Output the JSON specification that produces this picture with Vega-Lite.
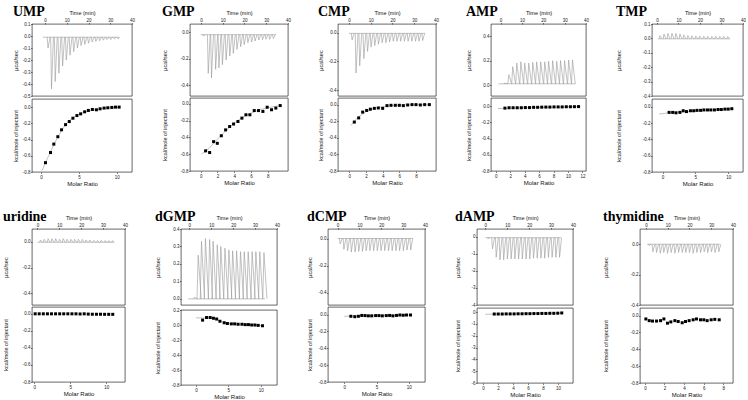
{
"$schema": "https://vega.github.io/schema/vega-lite/v6.json",
"background": "white",
"padding": {"left": 2, "top": 4, "right": 0, "bottom": 0},
"spacing": 22,
"vconcat": [
{"hconcat": [
 {"spacing": 0, "vconcat": [
  {"width": 100, "height": 72, "title": {"text": "UMP"},
   "data": {"name": "raw"},
   "transform": [{"filter": "datum.p==='UMP'"}, {"lookup": "p", "from": {"data": {"name": "base"}, "key": "p", "fields": ["b"]}}],
   "encoding": {
    "x": {"field": "t", "type": "quantitative", "scale": {"domain": [-6, 40], "nice": false, "zero": false}, "axis": {"orient": "top", "title": "Time (min)", "values": [0, 10, 20, 30, 40], "format": "d"}},
    "y": {"field": "b", "type": "quantitative", "scale": {"domain": [-0.5, 0.1], "nice": false, "zero": false}, "axis": {"title": "µcal/sec", "values": [0.1, 0, -0.1, -0.2, -0.3, -0.4, -0.5], "format": ".1f", "minExtent": 12.5, "maxExtent": 12.5}}
   },
   "layer": [
    {"data": {"name": "base"}, "transform": [{"filter": "datum.p==='UMP'"}], "mark": {"type": "rule", "color": "#999", "strokeWidth": 0.6}, "encoding": {"x2": {"field": "t1"}}},
    {"mark": {"type": "rule", "color": "#999", "strokeWidth": 0.6, "x2Offset": 0.8}, "encoding": {"x2": {"field": "t"}, "y2": {"field": "h"}}},
    {"mark": {"type": "rule", "color": "#999", "strokeWidth": 0.6, "xOffset": 2.8, "x2Offset": 0.8}, "encoding": {"x2": {"field": "t"}, "y2": {"field": "h"}}}
   ]},
  {"width": 100, "height": 73,
   "encoding": {
    "x": {"field": "x", "type": "quantitative", "scale": {"domain": [-1.2, 12], "nice": false, "zero": false}, "axis": {"title": "Molar Ratio", "titleFontSize": 6, "values": [0, 5, 10], "format": "d"}},
    "y": {"field": "y", "type": "quantitative", "scale": {"domain": [-0.8, 0.1], "nice": false, "zero": false}, "axis": {"title": "kcal/mole of injectant", "values": [0, -0.2, -0.4, -0.6, -0.8], "format": ".1f", "minExtent": 12.5, "maxExtent": 12.5}}
   },
   "layer": [
    {"data": {"name": "fit"}, "transform": [{"filter": "datum.p==='UMP'"}], "mark": {"type": "line", "color": "#999", "strokeWidth": 0.6}},
    {"data": {"name": "pts"}, "transform": [{"filter": "datum.p==='UMP'"}], "mark": {"type": "square", "color": "#000", "size": 9, "opacity": 1}}
   ]}
 ]},
 {"spacing": 0, "vconcat": [
  {"width": 98, "height": 72, "title": {"text": "GMP"},
   "data": {"name": "raw"},
   "transform": [{"filter": "datum.p==='GMP'"}, {"lookup": "p", "from": {"data": {"name": "base"}, "key": "p", "fields": ["b"]}}],
   "encoding": {
    "x": {"field": "t", "type": "quantitative", "scale": {"domain": [-5, 40], "nice": false, "zero": false}, "axis": {"orient": "top", "title": "Time (min)", "values": [0, 10, 20, 30, 40], "format": "d"}},
    "y": {"field": "b", "type": "quantitative", "scale": {"domain": [-0.48, 0.06], "nice": false, "zero": false}, "axis": {"title": "µcal/sec", "values": [0, -0.2, -0.4], "format": ".1f", "minExtent": 21.5, "maxExtent": 21.5}}
   },
   "layer": [
    {"data": {"name": "base"}, "transform": [{"filter": "datum.p==='GMP'"}], "mark": {"type": "rule", "color": "#999", "strokeWidth": 0.6}, "encoding": {"x2": {"field": "t1"}}},
    {"mark": {"type": "rule", "color": "#999", "strokeWidth": 0.6, "x2Offset": 0.8}, "encoding": {"x2": {"field": "t"}, "y2": {"field": "h"}}},
    {"mark": {"type": "rule", "color": "#999", "strokeWidth": 0.6, "xOffset": 2.8, "x2Offset": 0.8}, "encoding": {"x2": {"field": "t"}, "y2": {"field": "h"}}}
   ]},
  {"width": 98, "height": 73,
   "encoding": {
    "x": {"field": "x", "type": "quantitative", "scale": {"domain": [-1.27, 10.4], "nice": false, "zero": false}, "axis": {"title": "Molar Ratio", "titleFontSize": 6, "values": [0, 2, 4, 6, 8], "format": "d"}},
    "y": {"field": "y", "type": "quantitative", "scale": {"domain": [-0.8, 0.07], "nice": false, "zero": false}, "axis": {"title": "kcal/mole of injectant", "values": [0, -0.2, -0.4, -0.6, -0.8], "format": ".1f", "minExtent": 21.5, "maxExtent": 21.5}}
   },
   "layer": [
    {"data": {"name": "fit"}, "transform": [{"filter": "datum.p==='GMP'"}], "mark": {"type": "line", "color": "#999", "strokeWidth": 0.6}},
    {"data": {"name": "pts"}, "transform": [{"filter": "datum.p==='GMP'"}], "mark": {"type": "square", "color": "#000", "size": 9, "opacity": 1}}
   ]}
 ]},
 {"spacing": 0, "vconcat": [
  {"width": 98, "height": 72, "title": {"text": "CMP"},
   "data": {"name": "raw"},
   "transform": [{"filter": "datum.p==='CMP'"}, {"lookup": "p", "from": {"data": {"name": "base"}, "key": "p", "fields": ["b"]}}],
   "encoding": {
    "x": {"field": "t", "type": "quantitative", "scale": {"domain": [-5, 40], "nice": false, "zero": false}, "axis": {"orient": "top", "title": "Time (min)", "values": [0, 10, 20, 30, 40], "format": "d"}},
    "y": {"field": "b", "type": "quantitative", "scale": {"domain": [-0.44, 0.06], "nice": false, "zero": false}, "axis": {"title": "µcal/sec", "values": [0, -0.2, -0.4], "format": ".1f", "minExtent": 13.5, "maxExtent": 13.5}}
   },
   "layer": [
    {"data": {"name": "base"}, "transform": [{"filter": "datum.p==='CMP'"}], "mark": {"type": "rule", "color": "#999", "strokeWidth": 0.6}, "encoding": {"x2": {"field": "t1"}}},
    {"mark": {"type": "rule", "color": "#999", "strokeWidth": 0.6, "x2Offset": 0.8}, "encoding": {"x2": {"field": "t"}, "y2": {"field": "h"}}},
    {"mark": {"type": "rule", "color": "#999", "strokeWidth": 0.6, "xOffset": 2.8, "x2Offset": 0.8}, "encoding": {"x2": {"field": "t"}, "y2": {"field": "h"}}}
   ]},
  {"width": 98, "height": 73,
   "encoding": {
    "x": {"field": "x", "type": "quantitative", "scale": {"domain": [-1.36, 10.4], "nice": false, "zero": false}, "axis": {"title": "Molar Ratio", "titleFontSize": 6, "values": [0, 2, 4, 6, 8], "format": "d"}},
    "y": {"field": "y", "type": "quantitative", "scale": {"domain": [-0.8, 0.08], "nice": false, "zero": false}, "axis": {"title": "kcal/mole of injectant", "values": [0, -0.2, -0.4, -0.6, -0.8], "format": ".1f", "minExtent": 13.5, "maxExtent": 13.5}}
   },
   "layer": [
    {"data": {"name": "fit"}, "transform": [{"filter": "datum.p==='CMP'"}], "mark": {"type": "line", "color": "#999", "strokeWidth": 0.6}},
    {"data": {"name": "pts"}, "transform": [{"filter": "datum.p==='CMP'"}], "mark": {"type": "square", "color": "#000", "size": 9, "opacity": 1}}
   ]}
 ]},
 {"spacing": 0, "vconcat": [
  {"width": 95, "height": 72, "title": {"text": "AMP"},
   "data": {"name": "raw"},
   "transform": [{"filter": "datum.p==='AMP'"}, {"lookup": "p", "from": {"data": {"name": "base"}, "key": "p", "fields": ["b"]}}],
   "encoding": {
    "x": {"field": "t", "type": "quantitative", "scale": {"domain": [-4.5, 40], "nice": false, "zero": false}, "axis": {"orient": "top", "title": "Time (min)", "values": [0, 10, 20, 30, 40], "format": "d"}},
    "y": {"field": "b", "type": "quantitative", "scale": {"domain": [-0.09, 0.5], "nice": false, "zero": false}, "axis": {"title": "µcal/sec", "values": [0, 0.2, 0.4], "format": ".1f", "minExtent": 18.5, "maxExtent": 18.5}}
   },
   "layer": [
    {"data": {"name": "base"}, "transform": [{"filter": "datum.p==='AMP'"}], "mark": {"type": "rule", "color": "#999", "strokeWidth": 0.6}, "encoding": {"x2": {"field": "t1"}}},
    {"mark": {"type": "rule", "color": "#999", "strokeWidth": 0.6, "x2Offset": 1}, "encoding": {"x2": {"field": "t"}, "y2": {"field": "h"}}},
    {"mark": {"type": "rule", "color": "#999", "strokeWidth": 0.6, "xOffset": 3.8, "x2Offset": 1}, "encoding": {"x2": {"field": "t"}, "y2": {"field": "h"}}}
   ]},
  {"width": 95, "height": 73,
   "encoding": {
    "x": {"field": "x", "type": "quantitative", "scale": {"domain": [-0.66, 12.5], "nice": false, "zero": false}, "axis": {"title": "Molar Ratio", "titleFontSize": 6, "values": [0, 2, 4, 6, 8, 10, 12], "format": "d"}},
    "y": {"field": "y", "type": "quantitative", "scale": {"domain": [-0.8, 0.1], "nice": false, "zero": false}, "axis": {"title": "kcal/mole of injectant", "values": [0, -0.2, -0.4, -0.6, -0.8], "format": ".1f", "minExtent": 18.5, "maxExtent": 18.5}}
   },
   "layer": [
    {"data": {"name": "fit"}, "transform": [{"filter": "datum.p==='AMP'"}], "mark": {"type": "line", "color": "#999", "strokeWidth": 0.6}},
    {"data": {"name": "pts"}, "transform": [{"filter": "datum.p==='AMP'"}], "mark": {"type": "square", "color": "#000", "size": 9, "opacity": 1}}
   ]}
 ]},
 {"spacing": 0, "vconcat": [
  {"width": 91, "height": 72, "title": {"text": "TMP"},
   "data": {"name": "raw"},
   "transform": [{"filter": "datum.p==='TMP'"}, {"lookup": "p", "from": {"data": {"name": "base"}, "key": "p", "fields": ["b"]}}],
   "encoding": {
    "x": {"field": "t", "type": "quantitative", "scale": {"domain": [-2.3, 40], "nice": false, "zero": false}, "axis": {"orient": "top", "title": "Time (min)", "values": [0, 10, 20, 30, 40], "format": "d"}},
    "y": {"field": "b", "type": "quantitative", "scale": {"domain": [-0.4, 0.1], "nice": false, "zero": false}, "axis": {"title": "µcal/sec", "values": [0.1, 0, -0.1, -0.2, -0.3, -0.4], "format": ".1f", "minExtent": 29.5, "maxExtent": 29.5}}
   },
   "layer": [
    {"data": {"name": "base"}, "transform": [{"filter": "datum.p==='TMP'"}], "mark": {"type": "rule", "color": "#999", "strokeWidth": 0.6}, "encoding": {"x2": {"field": "t1"}}},
    {"mark": {"type": "rule", "color": "#999", "strokeWidth": 0.6, "x2Offset": 0.8}, "encoding": {"x2": {"field": "t"}, "y2": {"field": "h"}}},
    {"mark": {"type": "rule", "color": "#999", "strokeWidth": 0.6, "xOffset": 2.8, "x2Offset": 0.8}, "encoding": {"x2": {"field": "t"}, "y2": {"field": "h"}}}
   ]},
  {"width": 91, "height": 73,
   "encoding": {
    "x": {"field": "x", "type": "quantitative", "scale": {"domain": [-1.6, 12.25], "nice": false, "zero": false}, "axis": {"title": "Molar Ratio", "titleFontSize": 6, "values": [0, 5, 10], "format": "d"}},
    "y": {"field": "y", "type": "quantitative", "scale": {"domain": [-0.8, 0.094], "nice": false, "zero": false}, "axis": {"title": "kcal/mole of injectant", "values": [0, -0.2, -0.4, -0.6, -0.8], "format": ".1f", "minExtent": 29.5, "maxExtent": 29.5}}
   },
   "layer": [
    {"data": {"name": "fit"}, "transform": [{"filter": "datum.p==='TMP'"}], "mark": {"type": "line", "color": "#999", "strokeWidth": 0.6}},
    {"data": {"name": "pts"}, "transform": [{"filter": "datum.p==='TMP'"}], "mark": {"type": "square", "color": "#000", "size": 9, "opacity": 1}}
   ]}
 ]}
]},
{"hconcat": [
 {"spacing": 0, "vconcat": [
  {"width": 93, "height": 76, "title": {"text": "uridine"},
   "data": {"name": "raw"},
   "transform": [{"filter": "datum.p==='uridine'"}, {"lookup": "p", "from": {"data": {"name": "base"}, "key": "p", "fields": ["b"]}}],
   "encoding": {
    "x": {"field": "t", "type": "quantitative", "scale": {"domain": [-2.5, 40], "nice": false, "zero": false}, "axis": {"orient": "top", "title": "Time (min)", "values": [0, 10, 20, 30, 40], "format": "d"}},
    "y": {"field": "b", "type": "quantitative", "scale": {"domain": [-0.49, 0.1], "nice": false, "zero": false}, "axis": {"title": "µcal/sec", "values": [0, -0.2, -0.4], "format": ".1f", "minExtent": 22.5, "maxExtent": 22.5}}
   },
   "layer": [
    {"data": {"name": "base"}, "transform": [{"filter": "datum.p==='uridine'"}], "mark": {"type": "rule", "color": "#999", "strokeWidth": 0.6}, "encoding": {"x2": {"field": "t1"}}},
    {"mark": {"type": "rule", "color": "#999", "strokeWidth": 0.6, "x2Offset": 0.8}, "encoding": {"x2": {"field": "t"}, "y2": {"field": "h"}}},
    {"mark": {"type": "rule", "color": "#999", "strokeWidth": 0.6, "xOffset": 2.8, "x2Offset": 0.8}, "encoding": {"x2": {"field": "t"}, "y2": {"field": "h"}}}
   ]},
  {"width": 93, "height": 75,
   "encoding": {
    "x": {"field": "x", "type": "quantitative", "scale": {"domain": [-0.3, 12.6], "nice": false, "zero": false}, "axis": {"title": "Molar Ratio", "titleFontSize": 6, "values": [0, 5, 10], "format": "d"}},
    "y": {"field": "y", "type": "quantitative", "scale": {"domain": [-0.8, 0.08], "nice": false, "zero": false}, "axis": {"title": "kcal/mole of injectant", "values": [0, -0.2, -0.4, -0.6, -0.8], "format": ".1f", "minExtent": 22.5, "maxExtent": 22.5}}
   },
   "layer": [
    {"data": {"name": "pts"}, "transform": [{"filter": "datum.p==='uridine'"}], "mark": {"type": "square", "color": "#000", "size": 9, "opacity": 1}}
   ]}
 ]},
 {"spacing": 0, "vconcat": [
  {"width": 96, "height": 76, "title": {"text": "dGMP"},
   "data": {"name": "raw"},
   "transform": [{"filter": "datum.p==='dGMP'"}, {"lookup": "p", "from": {"data": {"name": "base"}, "key": "p", "fields": ["b"]}}],
   "encoding": {
    "x": {"field": "t", "type": "quantitative", "scale": {"domain": [-3.8, 40], "nice": false, "zero": false}, "axis": {"orient": "top", "title": "Time (min)", "values": [0, 10, 20, 30, 40], "format": "d"}},
    "y": {"field": "b", "type": "quantitative", "scale": {"domain": [-0.035, 0.4], "nice": false, "zero": false}, "axis": {"title": "µcal/sec", "values": [0, 0.1, 0.2, 0.3, 0.4], "format": ".1f", "minExtent": 19.5, "maxExtent": 19.5}}
   },
   "layer": [
    {"data": {"name": "base"}, "transform": [{"filter": "datum.p==='dGMP'"}], "mark": {"type": "rule", "color": "#999", "strokeWidth": 0.6}, "encoding": {"x2": {"field": "t1"}}},
    {"mark": {"type": "rule", "color": "#999", "strokeWidth": 0.6, "x2Offset": 1.2}, "encoding": {"x2": {"field": "t"}, "y2": {"field": "h"}}},
    {"mark": {"type": "rule", "color": "#999", "strokeWidth": 0.6, "xOffset": 4.2, "x2Offset": 1.2}, "encoding": {"x2": {"field": "t"}, "y2": {"field": "h"}}}
   ]},
  {"width": 96, "height": 75,
   "encoding": {
    "x": {"field": "x", "type": "quantitative", "scale": {"domain": [-2.3, 12.5], "nice": false, "zero": false}, "axis": {"title": "Molar Ratio", "titleFontSize": 6, "values": [0, 5, 10], "format": "d"}},
    "y": {"field": "y", "type": "quantitative", "scale": {"domain": [-0.8, 0.2], "nice": false, "zero": false}, "axis": {"title": "kcal/mole of injectant", "values": [0.2, 0, -0.2, -0.4, -0.6, -0.8], "format": ".1f", "minExtent": 19.5, "maxExtent": 19.5}}
   },
   "layer": [
    {"data": {"name": "fit"}, "transform": [{"filter": "datum.p==='dGMP'"}], "mark": {"type": "line", "color": "#999", "strokeWidth": 0.6}},
    {"data": {"name": "pts"}, "transform": [{"filter": "datum.p==='dGMP'"}], "mark": {"type": "square", "color": "#000", "size": 9, "opacity": 1}}
   ]}
 ]},
 {"spacing": 0, "vconcat": [
  {"width": 97, "height": 76, "title": {"text": "dCMP"},
   "data": {"name": "raw"},
   "transform": [{"filter": "datum.p==='dCMP'"}, {"lookup": "p", "from": {"data": {"name": "base"}, "key": "p", "fields": ["b"]}}],
   "encoding": {
    "x": {"field": "t", "type": "quantitative", "scale": {"domain": [-4.4, 40], "nice": false, "zero": false}, "axis": {"orient": "top", "title": "Time (min)", "values": [0, 10, 20, 30, 40], "format": "d"}},
    "y": {"field": "b", "type": "quantitative", "scale": {"domain": [-0.49, 0.07], "nice": false, "zero": false}, "axis": {"title": "µcal/sec", "values": [0, -0.2, -0.4], "format": ".1f", "minExtent": 14.5, "maxExtent": 14.5}}
   },
   "layer": [
    {"data": {"name": "base"}, "transform": [{"filter": "datum.p==='dCMP'"}], "mark": {"type": "rule", "color": "#999", "strokeWidth": 0.6}, "encoding": {"x2": {"field": "t1"}}},
    {"mark": {"type": "rule", "color": "#999", "strokeWidth": 0.6, "x2Offset": 0.8}, "encoding": {"x2": {"field": "t"}, "y2": {"field": "h"}}},
    {"mark": {"type": "rule", "color": "#999", "strokeWidth": 0.6, "xOffset": 2.8, "x2Offset": 0.8}, "encoding": {"x2": {"field": "t"}, "y2": {"field": "h"}}}
   ]},
  {"width": 97, "height": 75,
   "encoding": {
    "x": {"field": "x", "type": "quantitative", "scale": {"domain": [-2.5, 12.5], "nice": false, "zero": false}, "axis": {"title": "Molar Ratio", "titleFontSize": 6, "values": [0, 5, 10], "format": "d"}},
    "y": {"field": "y", "type": "quantitative", "scale": {"domain": [-0.8, 0.09], "nice": false, "zero": false}, "axis": {"title": "kcal/mole of injectant", "values": [0, -0.2, -0.4, -0.6, -0.8], "format": ".1f", "minExtent": 14.5, "maxExtent": 14.5}}
   },
   "layer": [
    {"data": {"name": "fit"}, "transform": [{"filter": "datum.p==='dCMP'"}], "mark": {"type": "line", "color": "#999", "strokeWidth": 0.6}},
    {"data": {"name": "pts"}, "transform": [{"filter": "datum.p==='dCMP'"}], "mark": {"type": "square", "color": "#000", "size": 9, "opacity": 1}}
   ]}
 ]},
 {"spacing": 0, "vconcat": [
  {"width": 96, "height": 76, "title": {"text": "dAMP"},
   "data": {"name": "raw"},
   "transform": [{"filter": "datum.p==='dAMP'"}, {"lookup": "p", "from": {"data": {"name": "base"}, "key": "p", "fields": ["b"]}}],
   "encoding": {
    "x": {"field": "t", "type": "quantitative", "scale": {"domain": [-3.8, 40], "nice": false, "zero": false}, "axis": {"orient": "top", "title": "Time (min)", "values": [0, 10, 20, 30, 40], "format": "d"}},
    "y": {"field": "b", "type": "quantitative", "scale": {"domain": [-4, 0.46], "nice": false, "zero": false}, "axis": {"title": "µcal/sec", "values": [0, -1, -2, -3, -4], "format": "d", "minExtent": 15.5, "maxExtent": 15.5}}
   },
   "layer": [
    {"data": {"name": "base"}, "transform": [{"filter": "datum.p==='dAMP'"}], "mark": {"type": "rule", "color": "#999", "strokeWidth": 0.6}, "encoding": {"x2": {"field": "t1"}}},
    {"mark": {"type": "rule", "color": "#999", "strokeWidth": 0.6, "x2Offset": 0.8}, "encoding": {"x2": {"field": "t"}, "y2": {"field": "h"}}},
    {"mark": {"type": "rule", "color": "#999", "strokeWidth": 0.6, "xOffset": 2.8, "x2Offset": 0.8}, "encoding": {"x2": {"field": "t"}, "y2": {"field": "h"}}}
   ]},
  {"width": 96, "height": 75,
   "encoding": {
    "x": {"field": "x", "type": "quantitative", "scale": {"domain": [-0.8, 12], "nice": false, "zero": false}, "axis": {"title": "Molar Ratio", "titleFontSize": 6, "values": [0, 2, 4, 6, 8, 10], "format": "d"}},
    "y": {"field": "y", "type": "quantitative", "scale": {"domain": [-6, 0.35], "nice": false, "zero": false}, "axis": {"title": "kcal/mole of injectant", "values": [0, -1, -2, -3, -4, -5, -6], "format": "d", "minExtent": 15.5, "maxExtent": 15.5}}
   },
   "layer": [
    {"data": {"name": "fit"}, "transform": [{"filter": "datum.p==='dAMP'"}], "mark": {"type": "line", "color": "#999", "strokeWidth": 0.6}},
    {"data": {"name": "pts"}, "transform": [{"filter": "datum.p==='dAMP'"}], "mark": {"type": "square", "color": "#000", "size": 9, "opacity": 1}}
   ]}
 ]},
 {"spacing": 0, "vconcat": [
  {"width": 93, "height": 76, "title": {"text": "thymidine"},
   "data": {"name": "raw"},
   "transform": [{"filter": "datum.p==='thymidine'"}, {"lookup": "p", "from": {"data": {"name": "base"}, "key": "p", "fields": ["b"]}}],
   "encoding": {
    "x": {"field": "t", "type": "quantitative", "scale": {"domain": [-2.75, 40], "nice": false, "zero": false}, "axis": {"orient": "top", "title": "Time (min)", "values": [0, 10, 20, 30, 40], "format": "d"}},
    "y": {"field": "b", "type": "quantitative", "scale": {"domain": [-0.4, 0.1], "nice": false, "zero": false}, "axis": {"title": "µcal/sec", "values": [0, -0.2, -0.4], "format": ".1f", "minExtent": 30.5, "maxExtent": 30.5}}
   },
   "layer": [
    {"data": {"name": "base"}, "transform": [{"filter": "datum.p==='thymidine'"}], "mark": {"type": "rule", "color": "#999", "strokeWidth": 0.6}, "encoding": {"x2": {"field": "t1"}}},
    {"mark": {"type": "rule", "color": "#999", "strokeWidth": 0.6, "x2Offset": 0.8}, "encoding": {"x2": {"field": "t"}, "y2": {"field": "h"}}},
    {"mark": {"type": "rule", "color": "#999", "strokeWidth": 0.6, "xOffset": 2.8, "x2Offset": 0.8}, "encoding": {"x2": {"field": "t"}, "y2": {"field": "h"}}}
   ]},
  {"width": 93, "height": 75,
   "encoding": {
    "x": {"field": "x", "type": "quantitative", "scale": {"domain": [-0.5, 9], "nice": false, "zero": false}, "axis": {"title": "Molar Ratio", "titleFontSize": 6, "values": [0, 2, 4, 6, 8], "format": "d"}},
    "y": {"field": "y", "type": "quantitative", "scale": {"domain": [-0.8, 0.09], "nice": false, "zero": false}, "axis": {"title": "kcal/mole of injectant", "values": [0, -0.2, -0.4, -0.6, -0.8], "format": ".1f", "minExtent": 30.5, "maxExtent": 30.5}}
   },
   "layer": [
    {"data": {"name": "pts"}, "transform": [{"filter": "datum.p==='thymidine'"}], "mark": {"type": "square", "color": "#000", "size": 9, "opacity": 1}}
   ]}
 ]}
]}
],
"datasets": {
"base": [
{"p":"UMP","t":-1,"t1":34,"b":-0.01},
{"p":"GMP","t":0,"t1":34.5,"b":-0.02},
{"p":"CMP","t":0,"t1":35,"b":-0.005},
{"p":"AMP","t":-1,"t1":35,"b":0.01},
{"p":"TMP","t":0.5,"t1":34,"b":-0.003},
{"p":"uridine","t":0,"t1":35,"b":-0.003},
{"p":"dGMP","t":-0.5,"t1":34.5,"b":0},
{"p":"dCMP","t":0,"t1":34.5,"b":0},
{"p":"dAMP","t":0,"t1":34.5,"b":-0.05},
{"p":"thymidine","t":0.5,"t1":34,"b":0}
],
"raw": [
{"p":"UMP","t":1.0,"h":-0.10},{"p":"UMP","t":2.6,"h":-0.44},{"p":"UMP","t":4.3,"h":-0.38},{"p":"UMP","t":6.0,"h":-0.31},{"p":"UMP","t":7.7,"h":-0.25},{"p":"UMP","t":9.4,"h":-0.20},{"p":"UMP","t":11.1,"h":-0.16},{"p":"UMP","t":12.8,"h":-0.13},{"p":"UMP","t":14.5,"h":-0.10},{"p":"UMP","t":16.2,"h":-0.08},{"p":"UMP","t":17.9,"h":-0.07},{"p":"UMP","t":19.6,"h":-0.06},{"p":"UMP","t":21.3,"h":-0.05},{"p":"UMP","t":23.0,"h":-0.045},{"p":"UMP","t":24.7,"h":-0.04},{"p":"UMP","t":26.4,"h":-0.035},{"p":"UMP","t":28.1,"h":-0.03},{"p":"UMP","t":29.8,"h":-0.03},{"p":"UMP","t":31.5,"h":-0.025},{"p":"UMP","t":33.2,"h":-0.025},
{"p":"GMP","t":0.8,"h":-0.03},{"p":"GMP","t":3.0,"h":-0.31},{"p":"GMP","t":4.5,"h":-0.345},{"p":"GMP","t":6.4,"h":-0.28},{"p":"GMP","t":7.9,"h":-0.27},{"p":"GMP","t":9.5,"h":-0.245},{"p":"GMP","t":11.2,"h":-0.21},{"p":"GMP","t":12.9,"h":-0.18},{"p":"GMP","t":14.5,"h":-0.16},{"p":"GMP","t":16.2,"h":-0.13},{"p":"GMP","t":17.9,"h":-0.11},{"p":"GMP","t":19.5,"h":-0.095},{"p":"GMP","t":21.2,"h":-0.08},{"p":"GMP","t":22.9,"h":-0.075},{"p":"GMP","t":24.5,"h":-0.068},{"p":"GMP","t":26.2,"h":-0.06},{"p":"GMP","t":27.9,"h":-0.058},{"p":"GMP","t":29.5,"h":-0.055},{"p":"GMP","t":31.2,"h":-0.055},{"p":"GMP","t":32.9,"h":-0.05},
{"p":"CMP","t":1.1,"h":-0.05},{"p":"CMP","t":2.9,"h":-0.28},{"p":"CMP","t":4.6,"h":-0.23},{"p":"CMP","t":6.5,"h":-0.18},{"p":"CMP","t":8.2,"h":-0.13},{"p":"CMP","t":9.8,"h":-0.1},{"p":"CMP","t":11.5,"h":-0.09},{"p":"CMP","t":13.2,"h":-0.08},{"p":"CMP","t":14.9,"h":-0.07},{"p":"CMP","t":16.6,"h":-0.07},{"p":"CMP","t":18.3,"h":-0.065},{"p":"CMP","t":20.0,"h":-0.06},{"p":"CMP","t":21.7,"h":-0.06},{"p":"CMP","t":23.4,"h":-0.06},{"p":"CMP","t":25.1,"h":-0.06},{"p":"CMP","t":26.8,"h":-0.06},{"p":"CMP","t":28.5,"h":-0.06},{"p":"CMP","t":30.2,"h":-0.06},{"p":"CMP","t":31.8,"h":-0.06},{"p":"CMP","t":33.5,"h":-0.055},
{"p":"AMP","t":1.5,"h":0.015},{"p":"AMP","t":3.4,"h":0.085},{"p":"AMP","t":5.2,"h":0.15},{"p":"AMP","t":7.1,"h":0.18},{"p":"AMP","t":9.0,"h":0.19},{"p":"AMP","t":10.8,"h":0.18},{"p":"AMP","t":12.7,"h":0.18},{"p":"AMP","t":14.6,"h":0.185},{"p":"AMP","t":16.4,"h":0.19},{"p":"AMP","t":18.3,"h":0.19},{"p":"AMP","t":20.2,"h":0.19},{"p":"AMP","t":22.0,"h":0.195},{"p":"AMP","t":23.9,"h":0.2},{"p":"AMP","t":25.8,"h":0.195},{"p":"AMP","t":27.6,"h":0.2},{"p":"AMP","t":29.5,"h":0.2},{"p":"AMP","t":31.4,"h":0.205},{"p":"AMP","t":33.2,"h":0.205},
{"p":"TMP","t":1.0,"h":0.02},{"p":"TMP","t":2.9,"h":0.03},{"p":"TMP","t":4.7,"h":0.035},{"p":"TMP","t":6.6,"h":0.035},{"p":"TMP","t":8.4,"h":0.035},{"p":"TMP","t":10.3,"h":0.03},{"p":"TMP","t":12.1,"h":0.025},{"p":"TMP","t":14.0,"h":0.02},{"p":"TMP","t":15.8,"h":0.018},{"p":"TMP","t":17.7,"h":0.017},{"p":"TMP","t":19.5,"h":0.016},{"p":"TMP","t":21.4,"h":0.015},{"p":"TMP","t":23.2,"h":0.015},{"p":"TMP","t":25.1,"h":0.015},{"p":"TMP","t":26.9,"h":0.015},{"p":"TMP","t":28.8,"h":0.015},{"p":"TMP","t":30.6,"h":0.014},{"p":"TMP","t":32.5,"h":0.014},
{"p":"uridine","t":1.0,"h":0.015},{"p":"uridine","t":2.7,"h":0.02},{"p":"uridine","t":4.5,"h":0.025},{"p":"uridine","t":6.2,"h":0.025},{"p":"uridine","t":7.9,"h":0.025},{"p":"uridine","t":9.7,"h":0.02},{"p":"uridine","t":11.4,"h":0.025},{"p":"uridine","t":13.1,"h":0.02},{"p":"uridine","t":14.9,"h":0.02},{"p":"uridine","t":16.6,"h":0.02},{"p":"uridine","t":18.3,"h":0.02},{"p":"uridine","t":20.1,"h":0.02},{"p":"uridine","t":21.8,"h":0.015},{"p":"uridine","t":23.5,"h":0.015},{"p":"uridine","t":25.3,"h":0.012},{"p":"uridine","t":27.0,"h":0.01},{"p":"uridine","t":28.7,"h":0.012},{"p":"uridine","t":30.5,"h":0.01},{"p":"uridine","t":32.2,"h":0.01},{"p":"uridine","t":33.9,"h":0.01},
{"p":"dGMP","t":1.8,"h":0.01},{"p":"dGMP","t":3.5,"h":0.25},{"p":"dGMP","t":5.0,"h":0.33},{"p":"dGMP","t":6.8,"h":0.345},{"p":"dGMP","t":8.7,"h":0.34},{"p":"dGMP","t":10.3,"h":0.33},{"p":"dGMP","t":12.2,"h":0.31},{"p":"dGMP","t":13.8,"h":0.3},{"p":"dGMP","t":15.7,"h":0.29},{"p":"dGMP","t":17.5,"h":0.28},{"p":"dGMP","t":19.2,"h":0.275},{"p":"dGMP","t":21.0,"h":0.275},{"p":"dGMP","t":22.8,"h":0.27},{"p":"dGMP","t":24.5,"h":0.27},{"p":"dGMP","t":26.3,"h":0.27},{"p":"dGMP","t":28.1,"h":0.27},{"p":"dGMP","t":29.8,"h":0.27},{"p":"dGMP","t":31.6,"h":0.27},{"p":"dGMP","t":33.5,"h":0.265},
{"p":"dCMP","t":0.8,"h":-0.04},{"p":"dCMP","t":2.5,"h":-0.08},{"p":"dCMP","t":4.2,"h":-0.09},{"p":"dCMP","t":5.9,"h":-0.1},{"p":"dCMP","t":7.6,"h":-0.1},{"p":"dCMP","t":9.3,"h":-0.095},{"p":"dCMP","t":11.0,"h":-0.095},{"p":"dCMP","t":12.7,"h":-0.09},{"p":"dCMP","t":14.4,"h":-0.09},{"p":"dCMP","t":16.1,"h":-0.09},{"p":"dCMP","t":17.8,"h":-0.09},{"p":"dCMP","t":19.5,"h":-0.09},{"p":"dCMP","t":21.2,"h":-0.09},{"p":"dCMP","t":22.9,"h":-0.09},{"p":"dCMP","t":24.6,"h":-0.09},{"p":"dCMP","t":26.3,"h":-0.09},{"p":"dCMP","t":28.0,"h":-0.09},{"p":"dCMP","t":29.7,"h":-0.09},{"p":"dCMP","t":31.4,"h":-0.085},{"p":"dCMP","t":33.1,"h":-0.085},
{"p":"dAMP","t":0.8,"h":-0.1},{"p":"dAMP","t":2.9,"h":-0.7},{"p":"dAMP","t":4.6,"h":-1.2},{"p":"dAMP","t":6.3,"h":-1.35},{"p":"dAMP","t":8.0,"h":-1.35},{"p":"dAMP","t":9.7,"h":-1.3},{"p":"dAMP","t":11.4,"h":-1.3},{"p":"dAMP","t":13.1,"h":-1.3},{"p":"dAMP","t":14.8,"h":-1.3},{"p":"dAMP","t":16.5,"h":-1.3},{"p":"dAMP","t":18.2,"h":-1.3},{"p":"dAMP","t":19.9,"h":-1.3},{"p":"dAMP","t":21.6,"h":-1.25},{"p":"dAMP","t":23.3,"h":-1.25},{"p":"dAMP","t":25.0,"h":-1.25},{"p":"dAMP","t":26.7,"h":-1.25},{"p":"dAMP","t":28.4,"h":-1.2},{"p":"dAMP","t":30.1,"h":-1.2},{"p":"dAMP","t":31.8,"h":-1.2},{"p":"dAMP","t":33.5,"h":-1.2},
{"p":"thymidine","t":1.1,"h":-0.01},{"p":"thymidine","t":2.8,"h":-0.05},{"p":"thymidine","t":4.5,"h":-0.055},{"p":"thymidine","t":6.2,"h":-0.06},{"p":"thymidine","t":7.8,"h":-0.055},{"p":"thymidine","t":9.5,"h":-0.06},{"p":"thymidine","t":11.2,"h":-0.055},{"p":"thymidine","t":12.9,"h":-0.06},{"p":"thymidine","t":14.6,"h":-0.055},{"p":"thymidine","t":16.3,"h":-0.055},{"p":"thymidine","t":17.9,"h":-0.055},{"p":"thymidine","t":19.6,"h":-0.055},{"p":"thymidine","t":21.3,"h":-0.06},{"p":"thymidine","t":23.0,"h":-0.055},{"p":"thymidine","t":24.7,"h":-0.055},{"p":"thymidine","t":26.4,"h":-0.05},{"p":"thymidine","t":28.0,"h":-0.055},{"p":"thymidine","t":29.7,"h":-0.05},{"p":"thymidine","t":31.4,"h":-0.055},{"p":"thymidine","t":33.1,"h":-0.05}
],
"pts": [
{"p":"UMP","x":0.58,"y":-0.685},{"p":"UMP","x":1.24,"y":-0.56},{"p":"UMP","x":1.68,"y":-0.456},{"p":"UMP","x":2.21,"y":-0.365},{"p":"UMP","x":2.7,"y":-0.28},{"p":"UMP","x":3.23,"y":-0.216},{"p":"UMP","x":3.72,"y":-0.178},{"p":"UMP","x":4.2,"y":-0.137},{"p":"UMP","x":4.73,"y":-0.104},{"p":"UMP","x":5.22,"y":-0.083},{"p":"UMP","x":5.75,"y":-0.058},{"p":"UMP","x":6.24,"y":-0.041},{"p":"UMP","x":6.77,"y":-0.029},{"p":"UMP","x":7.3,"y":-0.033},{"p":"UMP","x":7.79,"y":-0.021},{"p":"UMP","x":8.32,"y":-0.012},{"p":"UMP","x":8.81,"y":-0.008},{"p":"UMP","x":9.34,"y":-0.004},{"p":"UMP","x":9.82,"y":0},{"p":"UMP","x":10.3,"y":0},
{"p":"GMP","x":0.59,"y":-0.56},{"p":"GMP","x":1.07,"y":-0.58},{"p":"GMP","x":1.54,"y":-0.45},{"p":"GMP","x":1.98,"y":-0.47},{"p":"GMP","x":2.46,"y":-0.38},{"p":"GMP","x":2.97,"y":-0.31},{"p":"GMP","x":3.45,"y":-0.27},{"p":"GMP","x":3.92,"y":-0.24},{"p":"GMP","x":4.44,"y":-0.21},{"p":"GMP","x":4.91,"y":-0.17},{"p":"GMP","x":5.39,"y":-0.13},{"p":"GMP","x":5.86,"y":-0.13},{"p":"GMP","x":6.38,"y":-0.08},{"p":"GMP","x":6.89,"y":-0.08},{"p":"GMP","x":7.41,"y":-0.09},{"p":"GMP","x":7.92,"y":-0.04},{"p":"GMP","x":8.44,"y":-0.07},{"p":"GMP","x":8.95,"y":-0.05},{"p":"GMP","x":9.47,"y":-0.02},
{"p":"CMP","x":0.6,"y":-0.21},{"p":"CMP","x":1.12,"y":-0.16},{"p":"CMP","x":1.6,"y":-0.09},{"p":"CMP","x":2.08,"y":-0.07},{"p":"CMP","x":2.52,"y":-0.055},{"p":"CMP","x":3.0,"y":-0.045},{"p":"CMP","x":3.48,"y":-0.04},{"p":"CMP","x":4.0,"y":-0.045},{"p":"CMP","x":4.52,"y":-0.012},{"p":"CMP","x":5.0,"y":-0.008},{"p":"CMP","x":5.52,"y":-0.008},{"p":"CMP","x":6.0,"y":-0.008},{"p":"CMP","x":6.48,"y":-0.012},{"p":"CMP","x":7.0,"y":-0.004},{"p":"CMP","x":7.52,"y":0},{"p":"CMP","x":8.0,"y":0},{"p":"CMP","x":8.52,"y":-0.004},{"p":"CMP","x":9.04,"y":0},{"p":"CMP","x":9.6,"y":0},
{"p":"AMP","x":1.27,"y":-0.025},{"p":"AMP","x":1.84,"y":-0.02},{"p":"AMP","x":2.4,"y":-0.02},{"p":"AMP","x":2.97,"y":-0.02},{"p":"AMP","x":3.54,"y":-0.02},{"p":"AMP","x":4.1,"y":-0.018},{"p":"AMP","x":4.67,"y":-0.018},{"p":"AMP","x":5.24,"y":-0.015},{"p":"AMP","x":5.8,"y":-0.015},{"p":"AMP","x":6.37,"y":-0.013},{"p":"AMP","x":6.94,"y":-0.012},{"p":"AMP","x":7.5,"y":-0.012},{"p":"AMP","x":8.07,"y":-0.01},{"p":"AMP","x":8.64,"y":-0.01},{"p":"AMP","x":9.2,"y":-0.01},{"p":"AMP","x":9.77,"y":-0.008},{"p":"AMP","x":10.34,"y":-0.008},{"p":"AMP","x":10.9,"y":-0.007},{"p":"AMP","x":11.47,"y":-0.006},
{"p":"TMP","x":1.0,"y":-0.07},{"p":"TMP","x":1.55,"y":-0.07},{"p":"TMP","x":2.05,"y":-0.075},{"p":"TMP","x":2.65,"y":-0.07},{"p":"TMP","x":3.15,"y":-0.05},{"p":"TMP","x":3.65,"y":-0.06},{"p":"TMP","x":4.25,"y":-0.05},{"p":"TMP","x":4.75,"y":-0.05},{"p":"TMP","x":5.25,"y":-0.045},{"p":"TMP","x":5.8,"y":-0.045},{"p":"TMP","x":6.3,"y":-0.04},{"p":"TMP","x":6.85,"y":-0.04},{"p":"TMP","x":7.35,"y":-0.04},{"p":"TMP","x":7.9,"y":-0.04},{"p":"TMP","x":8.45,"y":-0.035},{"p":"TMP","x":8.95,"y":-0.035},{"p":"TMP","x":9.5,"y":-0.03},{"p":"TMP","x":10.0,"y":-0.03},{"p":"TMP","x":10.55,"y":-0.025},
{"p":"uridine","x":0.14,"y":0},{"p":"uridine","x":0.7,"y":0},{"p":"uridine","x":1.27,"y":0},{"p":"uridine","x":1.84,"y":0},{"p":"uridine","x":2.4,"y":0},{"p":"uridine","x":2.97,"y":0},{"p":"uridine","x":3.54,"y":0},{"p":"uridine","x":4.1,"y":0},{"p":"uridine","x":4.67,"y":0},{"p":"uridine","x":5.24,"y":0},{"p":"uridine","x":5.8,"y":0},{"p":"uridine","x":6.37,"y":-0.002},{"p":"uridine","x":6.94,"y":0},{"p":"uridine","x":7.5,"y":-0.003},{"p":"uridine","x":8.07,"y":-0.005},{"p":"uridine","x":8.64,"y":-0.005},{"p":"uridine","x":9.2,"y":-0.005},{"p":"uridine","x":9.77,"y":-0.006},{"p":"uridine","x":10.34,"y":-0.006},{"p":"uridine","x":10.9,"y":-0.006},
{"p":"dGMP","x":1.03,"y":0.065},{"p":"dGMP","x":1.64,"y":0.1},{"p":"dGMP","x":2.2,"y":0.1},{"p":"dGMP","x":2.7,"y":0.09},{"p":"dGMP","x":3.2,"y":0.08},{"p":"dGMP","x":3.7,"y":0.05},{"p":"dGMP","x":4.36,"y":0.03},{"p":"dGMP","x":4.85,"y":0.02},{"p":"dGMP","x":5.46,"y":0.015},{"p":"dGMP","x":5.97,"y":0.015},{"p":"dGMP","x":6.5,"y":0.01},{"p":"dGMP","x":7.1,"y":0.01},{"p":"dGMP","x":7.6,"y":0.005},{"p":"dGMP","x":8.1,"y":0.005},{"p":"dGMP","x":8.6,"y":0},{"p":"dGMP","x":9.1,"y":0},{"p":"dGMP","x":9.6,"y":-0.005},{"p":"dGMP","x":10.26,"y":-0.01},
{"p":"dCMP","x":1.03,"y":-0.02},{"p":"dCMP","x":1.64,"y":-0.025},{"p":"dCMP","x":2.2,"y":-0.02},{"p":"dCMP","x":2.72,"y":-0.01},{"p":"dCMP","x":3.23,"y":-0.012},{"p":"dCMP","x":3.74,"y":-0.015},{"p":"dCMP","x":4.26,"y":-0.015},{"p":"dCMP","x":4.87,"y":-0.012},{"p":"dCMP","x":5.38,"y":-0.012},{"p":"dCMP","x":5.9,"y":-0.015},{"p":"dCMP","x":6.51,"y":-0.012},{"p":"dCMP","x":7.03,"y":-0.01},{"p":"dCMP","x":7.54,"y":-0.015},{"p":"dCMP","x":8.1,"y":-0.01},{"p":"dCMP","x":8.62,"y":-0.005},{"p":"dCMP","x":9.13,"y":-0.008},{"p":"dCMP","x":9.64,"y":-0.005},{"p":"dCMP","x":10.26,"y":-0.005},
{"p":"dAMP","x":1.5,"y":-0.16},{"p":"dAMP","x":2.03,"y":-0.16},{"p":"dAMP","x":2.56,"y":-0.16},{"p":"dAMP","x":3.09,"y":-0.15},{"p":"dAMP","x":3.62,"y":-0.15},{"p":"dAMP","x":4.15,"y":-0.15},{"p":"dAMP","x":4.68,"y":-0.14},{"p":"dAMP","x":5.21,"y":-0.14},{"p":"dAMP","x":5.74,"y":-0.13},{"p":"dAMP","x":6.26,"y":-0.13},{"p":"dAMP","x":6.79,"y":-0.12},{"p":"dAMP","x":7.32,"y":-0.12},{"p":"dAMP","x":7.85,"y":-0.11},{"p":"dAMP","x":8.38,"y":-0.11},{"p":"dAMP","x":8.91,"y":-0.1},{"p":"dAMP","x":9.44,"y":-0.1},{"p":"dAMP","x":9.97,"y":-0.09},{"p":"dAMP","x":10.5,"y":-0.07},
{"p":"thymidine","x":0.1,"y":-0.04},{"p":"thymidine","x":0.44,"y":-0.06},{"p":"thymidine","x":0.78,"y":-0.065},{"p":"thymidine","x":1.19,"y":-0.065},{"p":"thymidine","x":1.6,"y":-0.06},{"p":"thymidine","x":1.94,"y":-0.04},{"p":"thymidine","x":2.31,"y":-0.09},{"p":"thymidine","x":2.65,"y":-0.075},{"p":"thymidine","x":3.06,"y":-0.06},{"p":"thymidine","x":3.4,"y":-0.07},{"p":"thymidine","x":3.81,"y":-0.085},{"p":"thymidine","x":4.15,"y":-0.07},{"p":"thymidine","x":4.52,"y":-0.06},{"p":"thymidine","x":4.93,"y":-0.05},{"p":"thymidine","x":5.27,"y":-0.04},{"p":"thymidine","x":5.68,"y":-0.05},{"p":"thymidine","x":6.02,"y":-0.05},{"p":"thymidine","x":6.36,"y":-0.06},{"p":"thymidine","x":6.77,"y":-0.05},{"p":"thymidine","x":7.14,"y":-0.045},{"p":"thymidine","x":7.59,"y":-0.05}
],
"fit": [
{"p":"UMP","x":0.15,"y":-0.78},{"p":"UMP","x":0.6,"y":-0.68},{"p":"UMP","x":1.2,"y":-0.56},{"p":"UMP","x":1.7,"y":-0.46},{"p":"UMP","x":2.2,"y":-0.37},{"p":"UMP","x":2.7,"y":-0.29},{"p":"UMP","x":3.2,"y":-0.22},{"p":"UMP","x":3.7,"y":-0.17},{"p":"UMP","x":4.2,"y":-0.13},{"p":"UMP","x":5.2,"y":-0.08},{"p":"UMP","x":6.2,"y":-0.05},{"p":"UMP","x":7.3,"y":-0.03},{"p":"UMP","x":8.3,"y":-0.015},{"p":"UMP","x":10.3,"y":-0.005},
{"p":"GMP","x":0.1,"y":-0.6},{"p":"GMP","x":1,"y":-0.53},{"p":"GMP","x":2,"y":-0.42},{"p":"GMP","x":3,"y":-0.32},{"p":"GMP","x":4,"y":-0.23},{"p":"GMP","x":5,"y":-0.16},{"p":"GMP","x":6,"y":-0.11},{"p":"GMP","x":7,"y":-0.07},{"p":"GMP","x":8,"y":-0.045},{"p":"GMP","x":9.5,"y":-0.02},
{"p":"CMP","x":0.2,"y":-0.25},{"p":"CMP","x":0.6,"y":-0.2},{"p":"CMP","x":1.1,"y":-0.15},{"p":"CMP","x":1.6,"y":-0.11},{"p":"CMP","x":2.1,"y":-0.08},{"p":"CMP","x":2.6,"y":-0.06},{"p":"CMP","x":3.2,"y":-0.04},{"p":"CMP","x":4,"y":-0.025},{"p":"CMP","x":5,"y":-0.012},{"p":"CMP","x":6,"y":-0.006},{"p":"CMP","x":7.5,"y":-0.002},{"p":"CMP","x":9.6,"y":0},
{"p":"AMP","x":0.3,"y":-0.03},{"p":"AMP","x":11.5,"y":-0.006},
{"p":"TMP","x":-0.5,"y":-0.09},{"p":"TMP","x":1.0,"y":-0.075},{"p":"TMP","x":10.5,"y":-0.025},
{"p":"dGMP","x":0,"y":0.095},{"p":"dGMP","x":1,"y":0.095},{"p":"dGMP","x":2.5,"y":0.09},{"p":"dGMP","x":3.5,"y":0.06},{"p":"dGMP","x":4.5,"y":0.03},{"p":"dGMP","x":6,"y":0.012},{"p":"dGMP","x":10.3,"y":-0.008},
{"p":"dCMP","x":0,"y":-0.02},{"p":"dCMP","x":10.26,"y":-0.005},
{"p":"dAMP","x":0.3,"y":-0.18},{"p":"dAMP","x":1.5,"y":-0.17},{"p":"dAMP","x":10.5,"y":-0.08}
]
},
"config": {
 "locale": {"number": {"decimal": ".", "thousands": ",", "grouping": [3], "currency": ["$", ""], "minus": "-"}},
 "view": {"stroke": "#000", "strokeWidth": 0.6},
 "axis": {"labelFont": "Liberation Sans", "labelFontSize": 4.5, "labelColor": "#222", "titleFont": "Liberation Sans", "titleFontSize": 5.5, "titleFontWeight": "normal", "titleColor": "#111", "tickSize": 1.5, "tickColor": "#000", "tickWidth": 0.5, "domain": false, "grid": false, "labelPadding": 0.5, "titlePadding": 1.5, "labelFlush": false, "labelOverlap": false},
 "title": {"font": "Liberation Serif", "fontSize": 14, "fontWeight": "bold", "anchor": "start", "frame": "bounds", "offset": 0, "dy": 12, "color": "#000"},
 "concat": {"spacing": 26}
}
}
